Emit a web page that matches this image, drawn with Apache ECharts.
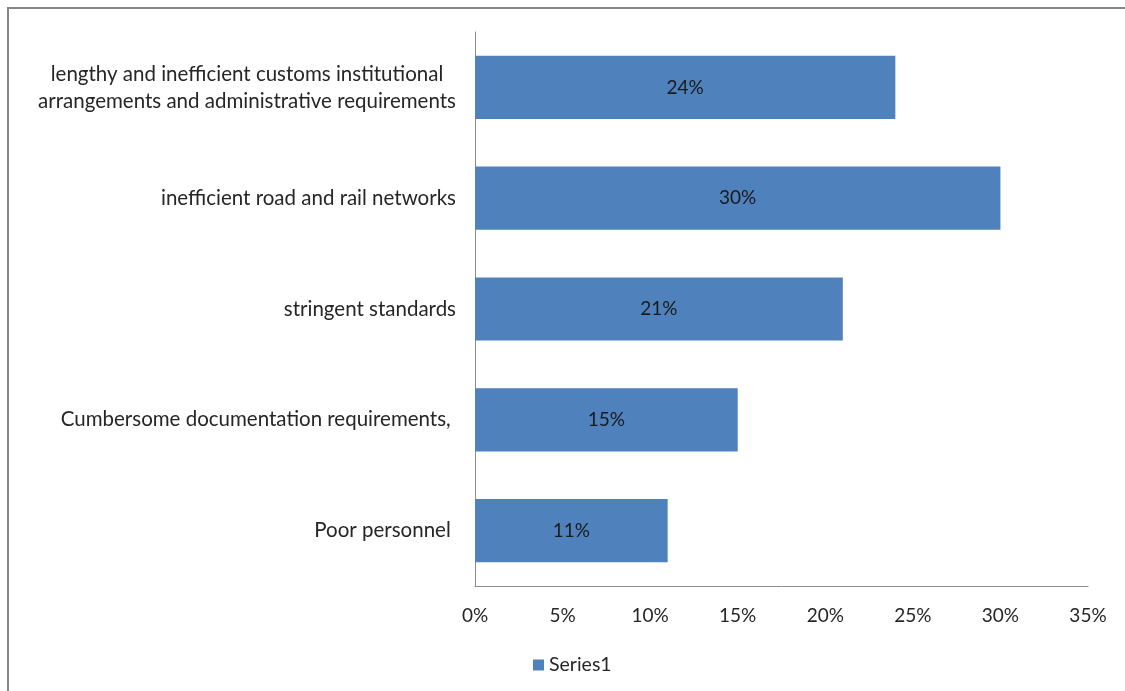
<!DOCTYPE html>
<html>
<head>
<meta charset="utf-8">
<script src="https://cdn.jsdelivr.net/npm/echarts@6/dist/echarts.min.js"></script>
<style>
  html, body { margin: 0; padding: 0; background: #fff; }
  #frame { position: absolute; left: 7px; top: 7px; width: 1200px; height: 800px;
           border-left: 2px solid #868686; border-top: 2px solid #868686; box-sizing: border-box; }
  #chart { position: absolute; left: 0; top: 0; width: 1125px; height: 691px; }
</style>
</head>
<body>
<div id="frame"></div>
<div id="chart"></div>
<script>
// Obstacles, listed bottom-to-top as the category axis draws them
const categories = [
  'Poor personnel ',
  'Cumbersome documentation requirements, ',
  'stringent standards',
  'inefficient road and rail networks',
  'lengthy and inefficient customs institutional\narrangements and administrative requirements'
];
const seriesName = 'Series1';
const values = [0.11, 0.15, 0.21, 0.30, 0.24];
const tickMax = 0.35;
const tickStep = 0.05;

const font = 'Lato, "Open Sans", sans-serif';
const catFontSize = 20.5;

// Measure text so that wrapped labels can be centred within their own block
const measureCtx = document.createElement('canvas').getContext('2d');
measureCtx.font = catFontSize + 'px ' + font;
function catLabel(v) {
  const lines = v.split('\n');
  if (lines.length === 1) return v;
  const w = Math.ceil(Math.max(...lines.map(l => measureCtx.measureText(l).width)));
  return lines.map(l => '{c' + w + '|' + l + '}').join('\n');
}
const rich = {};
categories.forEach(c => {
  const lines = c.split('\n');
  if (lines.length > 1) {
    const w = Math.ceil(Math.max(...lines.map(l => measureCtx.measureText(l).width)));
    rich['c' + w] = { width: w, align: 'center', fontFamily: font, fontSize: catFontSize,
                      color: '#262626', lineHeight: 27 };
  }
});

const chart = echarts.init(document.getElementById('chart'), null, { renderer: 'canvas' });
chart.setOption({
  animation: false,
  backgroundColor: 'transparent',
  grid: { left: 475, right: 37, top: 32, bottom: 105, containLabel: false },
  legend: {
    data: [seriesName], left: 528, top: 650,
    itemWidth: 11, itemHeight: 11, icon: 'rect', itemGap: 6,
    textStyle: { fontFamily: font, fontSize: 19.5, color: '#262626' }
  },
  xAxis: {
    type: 'value', min: 0, max: tickMax, interval: tickStep,
    axisLine: { show: true, lineStyle: { color: '#8c8c8c', width: 1 } },
    axisTick: { show: false },
    splitLine: { show: false },
    axisLabel: {
      fontFamily: font, fontSize: 19, color: '#262626', margin: 20,
      formatter: v => Math.round(v * 100) + '%'
    }
  },
  yAxis: {
    type: 'category', data: categories,
    axisLine: { show: true, lineStyle: { color: '#8c8c8c', width: 1 } },
    axisTick: { show: false },
    axisLabel: {
      fontFamily: font, fontSize: catFontSize, color: '#262626', margin: 19,
      lineHeight: 27, align: 'right', formatter: catLabel, rich: rich
    }
  },
  series: [{
    name: seriesName, type: 'bar', data: values,
    barCategoryGap: '43%',
    itemStyle: { color: '#4F81BD' },
    label: {
      show: true, position: 'inside', fontFamily: font, fontSize: 19, color: '#1a1a1a',
      formatter: p => Math.round(p.value * 100) + '%'
    }
  }]
});
</script>
</body>
</html>
